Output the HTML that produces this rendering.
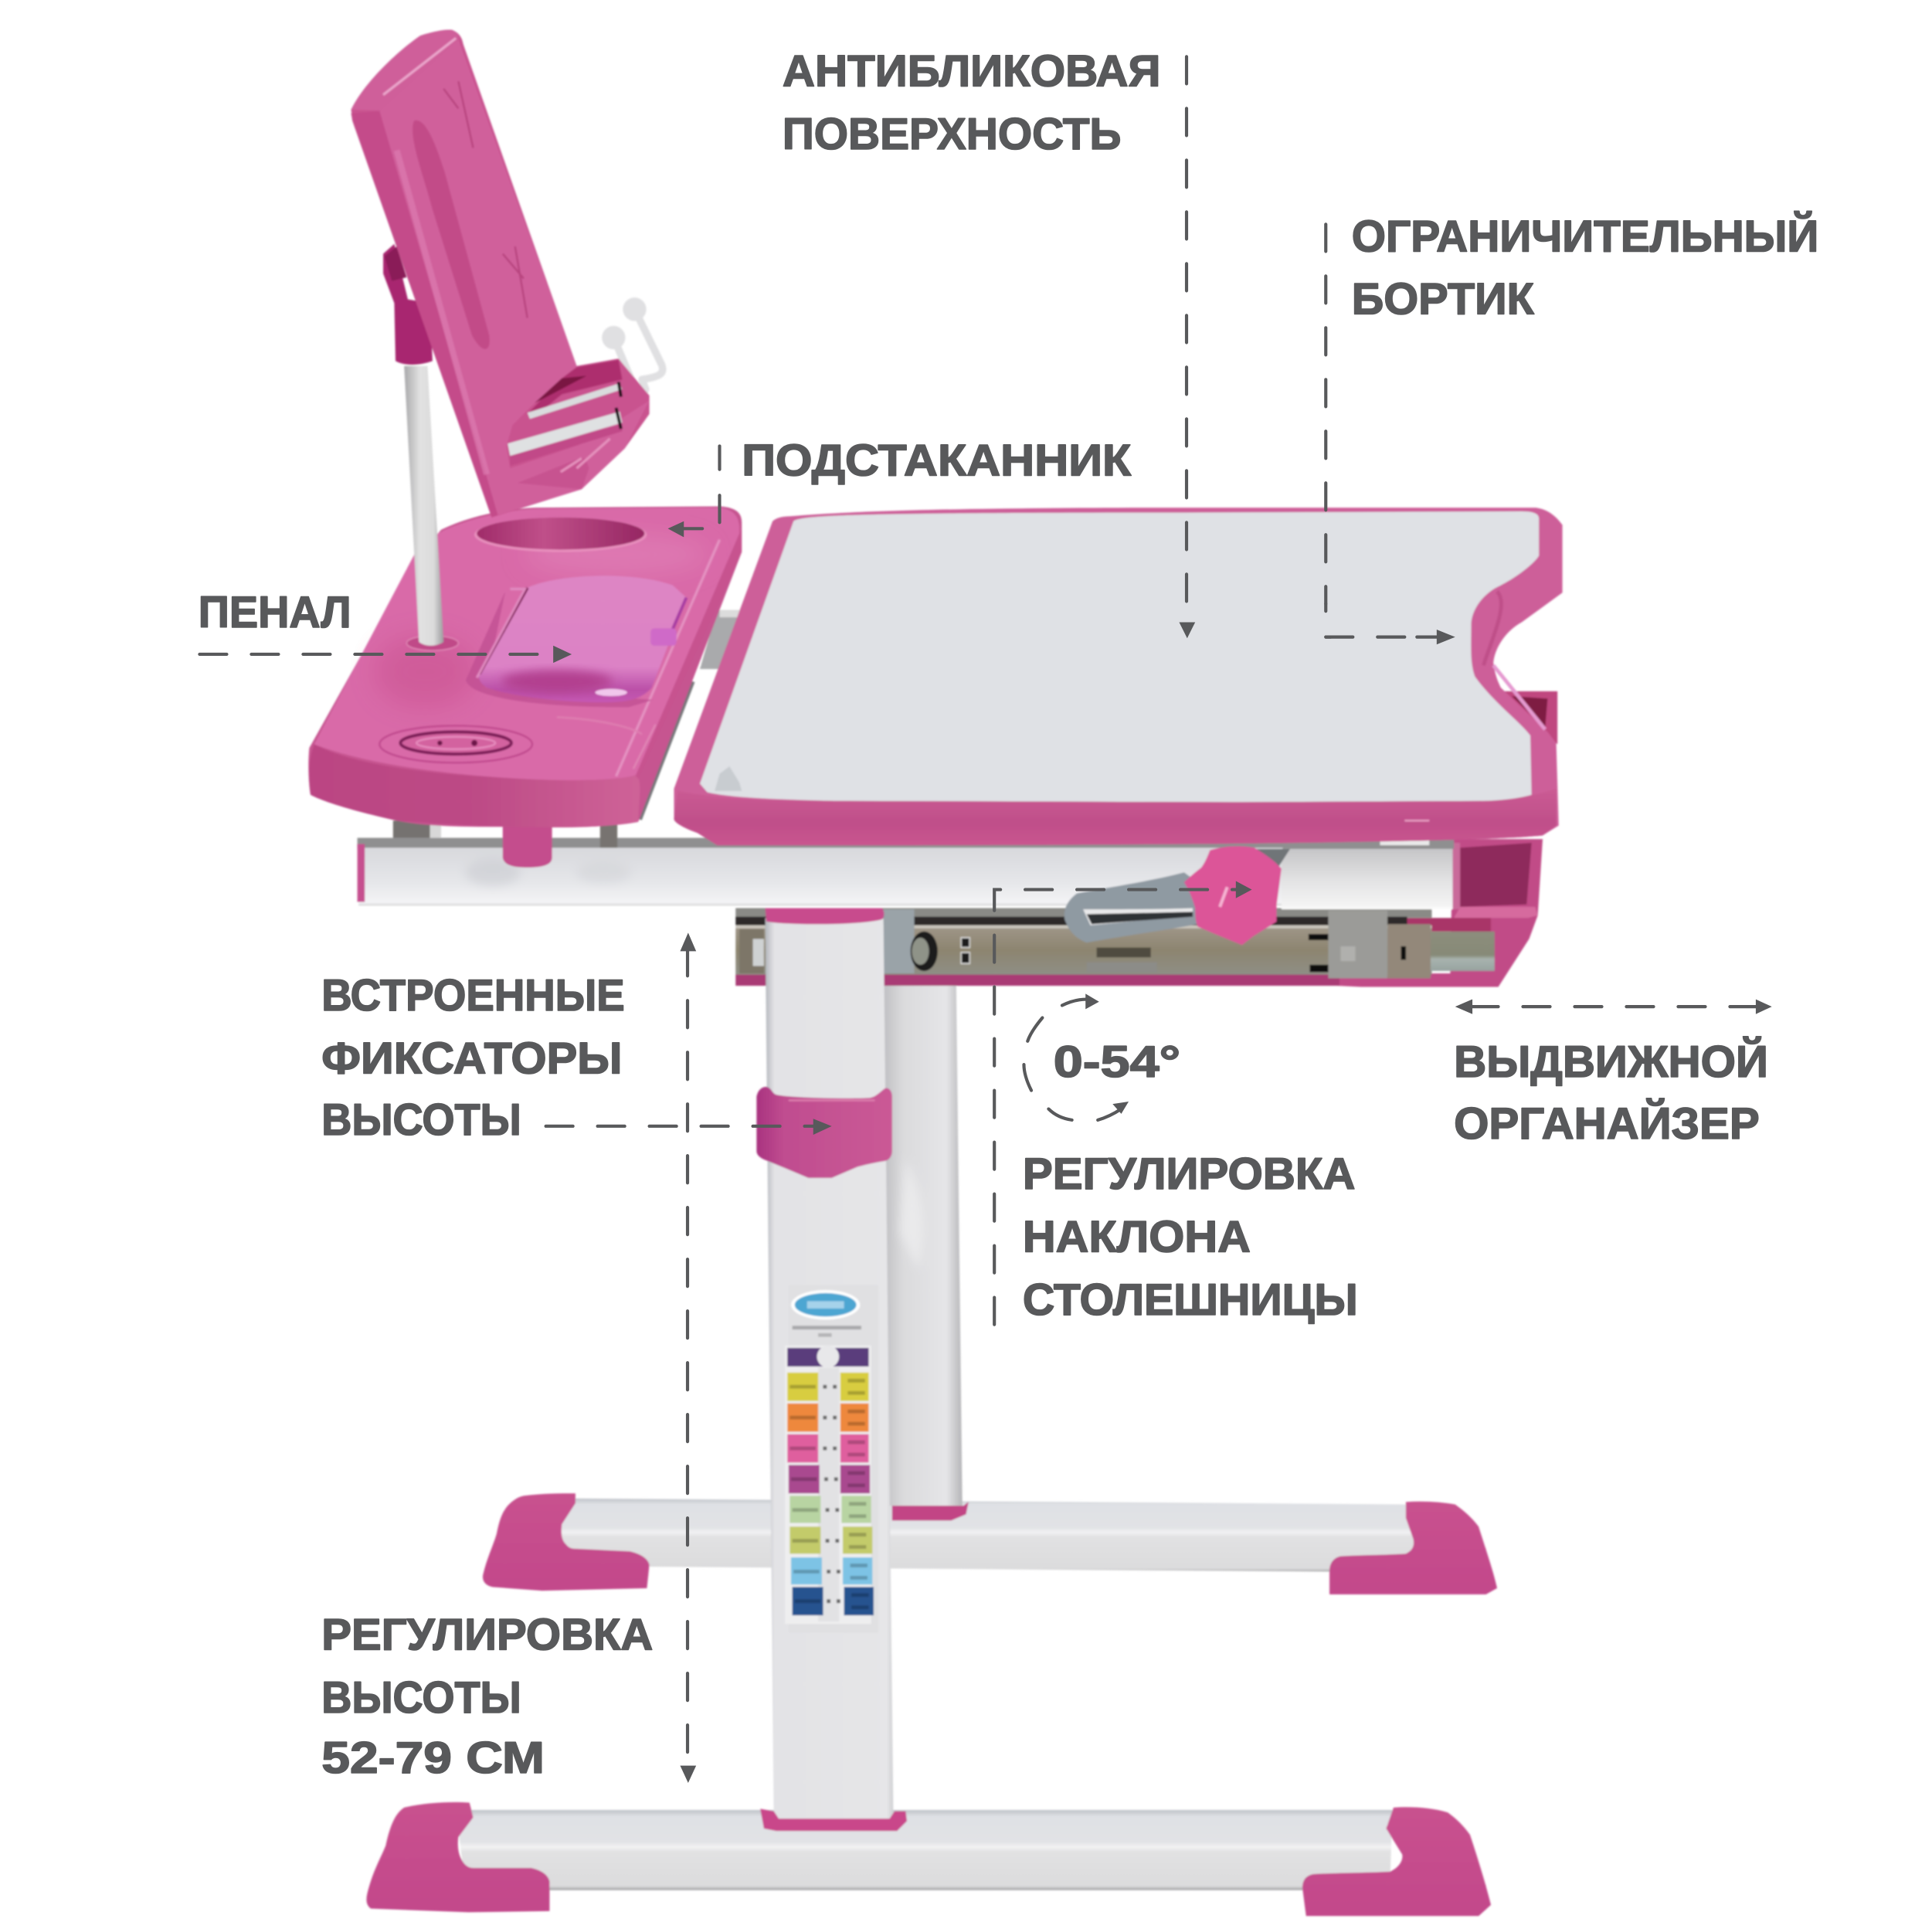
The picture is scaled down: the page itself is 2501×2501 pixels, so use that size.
<!DOCTYPE html>
<html lang="ru"><head><meta charset="utf-8"><title>Парта</title>
<style>html,body{margin:0;padding:0;background:#fff}svg{display:block}
text{font-family:"Liberation Sans","DejaVu Sans",sans-serif;font-weight:700;font-size:36px;fill:#58595b;stroke:#58595b;stroke-width:1;stroke-linejoin:round}
.d{fill:none;stroke:#58595b;stroke-width:2.6;stroke-linecap:round;stroke-dasharray:22 20}
.s{fill:none;stroke:#58595b;stroke-width:2.6;stroke-linecap:round}
.a{fill:#58595b}</style></head><body>
<svg xmlns="http://www.w3.org/2000/svg" width="2501" height="2501" viewBox="0 0 1568 1568">
<defs>
<filter id="b" x="-5%" y="-5%" width="110%" height="110%"><feGaussianBlur stdDeviation="0.7"/></filter>
<filter id="b3" x="-30%" y="-30%" width="160%" height="160%"><feGaussianBlur stdDeviation="4"/></filter>
<filter id="b9" x="-50%" y="-50%" width="200%" height="200%"><feGaussianBlur stdDeviation="10"/></filter>
<linearGradient id="bar" x1="0" y1="0" x2="0" y2="1"><stop offset="0" stop-color="#bfc3c9"/><stop offset=".08" stop-color="#dfe1e5"/><stop offset=".4" stop-color="#e2e3e6"/><stop offset=".46" stop-color="#f3f3f4"/><stop offset=".52" stop-color="#e2e2e3"/><stop offset=".95" stop-color="#dcdcdd"/><stop offset="1" stop-color="#a0a0a2"/></linearGradient>
<linearGradient id="leg" x1="0" y1="0" x2="1" y2="0"><stop offset="0" stop-color="#b4b7bd"/><stop offset=".07" stop-color="#e3e3e6"/><stop offset=".95" stop-color="#e6e6e8"/><stop offset="1" stop-color="#cfd0d3"/></linearGradient>
<linearGradient id="backleg" x1="0" y1="0" x2="1" y2="0"><stop offset="0" stop-color="#c0c0c3"/><stop offset=".25" stop-color="#dbdbdd"/><stop offset=".8" stop-color="#e6e6e8"/><stop offset="1" stop-color="#b5b5b8"/></linearGradient>
<linearGradient id="pole" x1="0" y1="0" x2="1" y2="0"><stop offset="0" stop-color="#a9a9ab"/><stop offset=".4" stop-color="#e2e2e2"/><stop offset=".75" stop-color="#dcdcdc"/><stop offset="1" stop-color="#9c9c9e"/></linearGradient>
<linearGradient id="beam" x1="0" y1="0" x2="0" y2="1"><stop offset="0" stop-color="#d8d9dd"/><stop offset=".6" stop-color="#e6e7ea"/><stop offset=".95" stop-color="#f4f4f6"/><stop offset="1" stop-color="#d2d2d4"/></linearGradient>
<linearGradient id="beam2" x1="0" y1="0" x2="0" y2="1"><stop offset="0" stop-color="#c6c6c8"/><stop offset=".5" stop-color="#e2e2e3"/><stop offset=".95" stop-color="#f5f5f5"/><stop offset="1" stop-color="#fff"/></linearGradient>
<linearGradient id="rail" x1="0" y1="0" x2="0" y2="1"><stop offset="0" stop-color="#a0978a"/><stop offset=".5" stop-color="#8d8570"/><stop offset="1" stop-color="#8f8f86"/></linearGradient>
<linearGradient id="railend" x1="0" y1="0" x2="0" y2="1"><stop offset="0" stop-color="#8d8e7c"/><stop offset=".6" stop-color="#878a78"/><stop offset=".7" stop-color="#a8b3ae"/><stop offset="1" stop-color="#97a3a0"/></linearGradient>
<linearGradient id="front" x1="0" y1="0" x2="0" y2="1"><stop offset="0" stop-color="#cb5c94"/><stop offset=".6" stop-color="#c04f8a"/><stop offset="1" stop-color="#c9558f"/></linearGradient>
<linearGradient id="trayfront" x1="0" y1="0" x2="1" y2="0"><stop offset="0" stop-color="#bb4583"/><stop offset=".5" stop-color="#bd4b86"/><stop offset="1" stop-color="#cf6398"/></linearGradient>
<linearGradient id="lid" x1="0" y1="0" x2="0" y2="1"><stop offset="0" stop-color="#de86c4"/><stop offset=".72" stop-color="#dc82c6"/><stop offset=".9" stop-color="#bb50a8"/><stop offset="1" stop-color="#c658b4"/></linearGradient>
<linearGradient id="hole" x1="0" y1="0" x2="1" y2="0"><stop offset="0" stop-color="#a02c6a"/><stop offset=".4" stop-color="#c0508a"/><stop offset="1" stop-color="#962763"/></linearGradient>
<linearGradient id="cap" x1="0" y1="0" x2="0" y2="1"><stop offset="0" stop-color="#c9528f"/><stop offset="1" stop-color="#c3488b"/></linearGradient>
<linearGradient id="collar" x1="0" y1="0" x2="1" y2="0"><stop offset="0" stop-color="#a93380"/><stop offset=".2" stop-color="#c04d90"/><stop offset="1" stop-color="#cb5a96"/></linearGradient>
</defs>

<g filter="url(#b)">
<!-- back foot bar -->
<path d="M445 1216L1148 1221V1276L455 1271Z" fill="url(#bar)"/>
<!-- back leg -->
<path d="M717 798H776L781 1222H720Z" fill="url(#backleg)"/>
<path d="M735 940C745 960 755 990 745 1030L730 1000Z" fill="#f0f0f1" opacity=".7" filter="url(#b3)"/>
<path d="M724 1222H782L786 1219L784 1229L772 1234H724Z" fill="#c24585"/>
<!-- back caps -->
<path d="M425 1214C440 1212 455 1212 467 1212L467 1220L456 1237C455 1245 456 1250 459 1253C462 1257 465 1257 468 1257L511 1259C520 1261 526 1265 527 1270L525 1289L440 1291L400 1288C394 1287 391 1283 392 1278C395 1265 400 1255 403 1245C405 1235 407 1228 412 1222C416 1218 420 1215 425 1214Z" fill="url(#cap)"/>
<path d="M1141 1219C1155 1218 1170 1219 1181 1221C1188 1226 1195 1232 1200 1239C1205 1255 1212 1275 1215 1289L1206 1294H1079V1275C1079 1268 1083 1264 1088 1263C1105 1262 1125 1262 1141 1261C1147 1258 1148 1254 1147 1249L1141 1232Z" fill="url(#cap)"/>
<!-- front foot bar -->
<path d="M370 1469H1130L1128 1534H378Z" fill="url(#bar)"/>
<!-- front caps -->
<path d="M328 1467C345 1463 365 1462 381 1463L384 1475L372 1491C371 1498 372 1505 375 1510C378 1515 381 1516 384 1516L431 1516C440 1518 445 1522 446 1527V1551L380 1552L301 1549C297 1546 297 1542 298 1537C302 1520 308 1510 313 1498C316 1484 320 1472 328 1467Z" fill="url(#cap)"/>
<path d="M1131 1467C1145 1466 1162 1467 1175 1471C1182 1476 1188 1482 1193 1489C1200 1510 1206 1530 1210 1546L1200 1555H1060L1057 1532C1057 1526 1060 1522 1066 1521C1085 1520 1110 1520 1128 1519C1135 1516 1139 1510 1138 1505L1125 1484Z" fill="url(#cap)"/>
<!-- drawer lower part -->
<path d="M1179 681H1252L1248 743L1241 762L1216 801H1105L1085 800H598V790H1177Z" fill="#c14b87"/>
<path d="M1185 688L1243 684L1239 734L1185 736Z" fill="#8e2b5c"/>
<path d="M1185 736H1246L1248 743L1240 745H1180Z" fill="#d66a9e"/>
<rect x="1179" y="684" width="6" height="54" fill="#c96a9a"/>
<rect x="597" y="790" width="490" height="10" fill="#a93a74"/>
<path d="M1100 745H1210V756H1100Z" fill="#a93668"/>
<!-- rail -->
<rect x="597" y="737" width="565" height="8" fill="#8a8a86"/>
<rect x="597" y="744" width="545" height="7" fill="#2e2b2a"/>
<rect x="597" y="751" width="565" height="40" fill="url(#rail)"/>
<rect x="597" y="751" width="565" height="2.500" fill="#c9c5bc"/>
<rect x="1161" y="756" width="52" height="32" fill="url(#railend)"/>
<rect x="1126" y="750" width="35" height="44" fill="#93887a"/>
<rect x="1078" y="739" width="48" height="55" fill="#9b9b98"/>
<rect x="1088" y="768" width="12" height="12" fill="#b0b0ad"/>
<rect x="1137" y="768" width="4" height="11" fill="#111"/>
<rect x="1062" y="758" width="16" height="5" fill="#111"/><rect x="1063" y="783" width="15" height="6" fill="#111"/>
<rect x="717" y="738" width="25" height="52" fill="#9aa3a8"/>
<ellipse cx="750" cy="772" rx="11" ry="16" fill="#1f1f1f"/><ellipse cx="747" cy="772" rx="7" ry="11" fill="#8f9388"/>
<rect x="780" y="761" width="7" height="8" fill="#1c1c1c" stroke="#ddd"/><rect x="780" y="773" width="7" height="9" fill="#1c1c1c" stroke="#ddd"/>
<rect x="600" y="754" width="20" height="36" fill="#7d7667"/><rect x="611" y="762" width="9" height="22" fill="#cfd2d3"/>
<rect x="890" y="769" width="44" height="8" fill="#4f4b40"/>
<rect x="882" y="781" width="57" height="8" fill="#8c8c88"/>
<!-- beam -->
<rect x="290" y="680" width="890" height="9" fill="#8f8f90"/>
<rect x="291" y="688" width="750" height="47" fill="url(#beam)"/>
<rect x="1040" y="689" width="139" height="49" fill="url(#beam2)"/>
<rect x="290" y="685" width="6" height="47" fill="#c64f8f"/>
<ellipse cx="400" cy="708" rx="22" ry="11" fill="#b9bbc2" opacity=".35" filter="url(#b3)"/>
<ellipse cx="490" cy="708" rx="22" ry="9" fill="#c5c6cb" opacity=".3" filter="url(#b3)"/>
<rect x="319" y="666" width="30" height="14" fill="#75726f"/>
<rect x="349" y="668" width="9" height="12" fill="#d8d8d8"/>
<rect x="487" y="669" width="14" height="19" fill="#77736f"/>
<rect x="1120" y="682" width="40" height="4" fill="#e9e9e9"/>
<path d="M408 670H448V696C448 702 440 704 428 704C416 704 409 702 408 696Z" fill="#c44e8d"/>
<!-- front leg -->
<path d="M621 745H717L725 1476C700 1480 650 1480 628 1476Z" fill="url(#leg)"/>
<path d="M621 737H716C718 740 718 744 716 746C700 751 640 751 622 748Z" fill="#c84c8d"/>
<path d="M617 1468L628 1470L632 1476H722L726 1470L735 1470L736 1478L728 1486H630L620 1484Z" fill="#c9478a"/>
<!-- collar -->
<path d="M614 890C615 885 618 882 622 882C626 883 626 886 629 888C634 891 690 892 706 891C712 890 716 884 719 883C722 883 724 886 724 890V934C724 938 722 941 719 942C708 944 703 945 696 947L675 956H656L637 948L620 941C616 939 614 937 614 934Z" fill="url(#collar)"/>
<path d="M640 893H710" stroke="#dd7fae" stroke-width="1.500"/>
<!-- height label -->
<rect x="640" y="1043" width="73" height="282" fill="#e0e0e2"/>
<ellipse cx="670" cy="1059" rx="28" ry="12" fill="#fff"/>
<ellipse cx="670" cy="1059" rx="25" ry="9.500" fill="#4da6d2"/>
<rect x="655" y="1056" width="30" height="6" fill="#a6d2ea"/>
<rect x="643" y="1076" width="56" height="3" fill="#a9a9ab"/><rect x="664" y="1082" width="11" height="3" fill="#b5b5b7"/>
<rect x="637" y="1092" width="70" height="226" fill="#eeeeef"/>
<rect x="664" y="1110" width="17" height="206" fill="#e2e2e4"/>
<path d="M639 1094H705V1109H639Z" fill="#5a3e7c"/>
<circle cx="672" cy="1101" r="9" fill="#e8e8ea"/>
<g>
<rect x="639" y="1114" width="25" height="23" fill="#d8cd3f"/><rect x="682" y="1114" width="23" height="23" fill="#d8cd3f"/>
<rect x="639" y="1139" width="25" height="23" fill="#ee883d"/><rect x="682" y="1139" width="23" height="23" fill="#ee883d"/>
<rect x="639" y="1164" width="25" height="23" fill="#df5f9e"/><rect x="682" y="1164" width="23" height="23" fill="#df5f9e"/>
<rect x="640" y="1189" width="25" height="23" fill="#a9498f"/><rect x="682" y="1189" width="24" height="23" fill="#a9498f"/>
<rect x="641" y="1214" width="25" height="22" fill="#b8d4a2"/><rect x="683" y="1214" width="24" height="22" fill="#b8d4a2"/>
<rect x="641" y="1239" width="25" height="22" fill="#c3cb6a"/><rect x="684" y="1239" width="24" height="22" fill="#c3cb6a"/>
<rect x="642" y="1264" width="25" height="22" fill="#7dc3e5"/><rect x="684" y="1264" width="24" height="22" fill="#7dc3e5"/>
<rect x="643" y="1288" width="25" height="23" fill="#27528f"/><rect x="685" y="1288" width="24" height="23" fill="#27528f"/>
<path d="M641 1124h21v3h-21zM641 1149h21v3h-21zM641 1174h21v3h-21zM642 1199h21v3h-21zM643 1224h21v3h-21zM643 1249h21v3h-21zM644 1274h21v3h-21zM645 1298h21v3h-21zM688 1119h14v3h-14zM688 1129h14v3h-14zM688 1144h14v3h-14zM688 1154h14v3h-14zM688 1169h14v3h-14zM688 1179h14v3h-14zM688 1194h14v3h-14zM688 1204h14v3h-14zM689 1219h14v3h-14zM689 1229h14v3h-14zM689 1244h14v3h-14zM689 1254h14v3h-14zM690 1269h14v3h-14zM690 1279h14v3h-14zM691 1293h14v3h-14zM691 1303h14v3h-14z" fill="#000" opacity=".22"/>
<path d="M668 1124h3v3h-3zM676 1124h3v3h-3zM668 1149h3v3h-3zM676 1149h3v3h-3zM668 1174h3v3h-3zM676 1174h3v3h-3zM669 1199h3v3h-3zM677 1199h3v3h-3zM670 1224h3v3h-3zM678 1224h3v3h-3zM670 1249h3v3h-3zM678 1249h3v3h-3zM671 1274h3v3h-3zM679 1274h3v3h-3zM671 1298h3v3h-3zM679 1298h3v3h-3z" fill="#666"/>
</g>
<!-- gray bracket behind tray -->
<path d="M582 495H604L587 543H568Z" fill="#a9aaac"/>
<rect x="584" y="495" width="18" height="6" fill="#dcdcdc"/>
<!-- tray -->
<path d="M519 665L562 553" stroke="#77777a" stroke-width="4" fill="none"/>
<path d="M358 430C380 419 410 413 434 412L585 411C597 412 602 416 602 424V448L518 667C490 672 450 672 434 671C395 671 350 672 322 666C295 660 265 652 252 645C250 632 250 617 251 607L335 457Z" fill="#c65490"/>
<path d="M361 430C386 419 414 414 434 413L585 412C597 414 601 421 600 433L516 629C502 634 452 634 422 632C372 629 302 622 255 604L341 441Z" fill="#d96aa8"/>
<ellipse cx="500" cy="450" rx="75" ry="16" fill="#e283b9" opacity=".6" filter="url(#b9)"/>
<ellipse cx="345" cy="545" rx="40" ry="28" fill="#cc5694" opacity=".7" filter="url(#b9)"/>
<path d="M255 604C292 624 372 630 422 632C462 634 502 634 516 629C522 632 518 652 518 667C482 674 402 672 322 666C295 660 265 652 252 645C250 632 250 617 255 604Z" fill="url(#trayfront)"/>
<path d="M518 632L602 447V430L516 630Z" fill="#c7538f"/>
<path d="M584 438L500 630" stroke="#e593c2" stroke-width="2" fill="none"/>
<!-- cup hole -->
<ellipse cx="455" cy="434" rx="70" ry="14" fill="#e88fbd"/>
<ellipse cx="455" cy="433" rx="68" ry="13" fill="url(#hole)"/>
<!-- pole base -->
<ellipse cx="351" cy="522" rx="21" ry="6" fill="#c04a88" stroke="#e086b5"/>
<!-- lid recess -->
<path d="M410 480L378 552C381 564 422 574 510 574L530 568L394 558Z" fill="#c14f92" opacity=".8"/>
<!-- lid -->
<path d="M428 477C452 466 512 463 546 475L557 485L529 558C521 567 511 570 489 570C451 570 411 564 395 558C389 554 388 550 389 547Z" fill="url(#lid)"/>
<path d="M428 477L389 547" stroke="#7d1a56" stroke-width="2.500" fill="none"/>
<path d="M414 478L426 478L387 550" stroke="#e08ac0" stroke-width="2" fill="none"/>
<path d="M557 485L541 522" stroke="#a83ca3" stroke-width="2.500" fill="none"/>
<rect x="528" y="510" width="21" height="14" rx="3" fill="#cf6ac8"/>
<ellipse cx="452" cy="553" rx="45" ry="9" fill="#b2408f" filter="url(#b3)"/>
<ellipse cx="496" cy="562" rx="13" ry="3" fill="#f1c8ec"/>
<!-- spiral -->
<ellipse cx="370" cy="604" rx="62" ry="15" fill="none" stroke="#c0498e" stroke-width="1.500"/>
<ellipse cx="370" cy="603" rx="45" ry="9" fill="#d3629f" stroke="#7d1f58" stroke-width="2.500"/>
<ellipse cx="370" cy="603" rx="32" ry="5" fill="none" stroke="#e78dbf" stroke-width="1.500"/>
<circle cx="357" cy="603" r="2" fill="#6d1349"/><circle cx="385" cy="603" r="2.500" fill="#6d1349"/>
<path d="M532 588L514 624" stroke="#e086b5" stroke-width="1.500"/>
<path d="M452 582C492 584 517 592 521 596" stroke="#df7fb1" stroke-width="1.500" fill="none"/>
<!-- pole -->
<path d="M328 297H347L360 521C354 525 345 525 340 521Z" fill="url(#pole)"/>
<!-- collar at pole -->
<path d="M311 206L320 198L331 243L349 246L351 293C340 297 328 297 321 293L320 246L311 222Z" fill="#a82870"/>
<path d="M312 208L322 200L330 225L318 228Z" fill="#8a1b58"/>
<!-- wires -->
<g fill="none" stroke="#e0e0e2" stroke-width="6" stroke-linecap="round" stroke-linejoin="round">
<path d="M515 251L537 296C540 304 534 306 521 308L524 316L518 330C512 334 505 336 500 337"/>
<path d="M498 274L514 312"/>
</g>
<circle cx="515" cy="251" r="9.500" fill="#e0e0e2"/><circle cx="498" cy="274" r="9.500" fill="#e0e0e2"/>
<!-- book holder -->
<path d="M285 89C295 68 322 42 341 29C350 26 360 24 366 24C372 26 375 30 376 36L468 297L502 291L506 296L527 321V336L507 364L472 397L399 420L286 98Z" fill="#c9538f"/>
<path d="M308 90L372 32L468 297L470 305L456 307L431 330L416 345L411 362L414 380L470 361L510 336L527 325L507 364L472 397L404 418Z" fill="#d0609b"/>
<path d="M285 92L308 90L404 418L399 420L286 98Z" fill="#c44c8a"/>
<path d="M285 89C295 68 322 42 341 29C350 26 360 24 366 24C372 26 373 30 372 32L308 90Z" fill="#cf5f9a"/>
<path d="M311 77L370 31" stroke="#eba6cc" stroke-width="2" fill="none"/>
<path d="M336 98C345 95 353 115 361 140L397 272C399 287 391 287 383 272L351 170C343 140 331 110 336 98Z" fill="#c04885" opacity=".85"/>
<path d="M322 122L395 385" stroke="#e080b4" stroke-width="5" fill="none" opacity=".6"/>
<path d="M360 72L372 88M372 66L384 120M408 206L425 226M418 200L428 258" stroke="#b8447f" stroke-width="1.500" fill="none"/>
<!-- ledge -->
<path d="M468 298L502 292L505 308L456 320L434 338L428 336L456 307Z" fill="#ad2f6e"/>
<path d="M434 327L456 307L476 305L442 323Z" fill="#7a1442"/>
<path d="M428 335L503 311L505 316L430 340Z" fill="#d9dbdd"/>
<path d="M412 360L503 334L505 343L414 370Z" fill="#dfe1e2"/>
<path d="M414 370L505 344L505 350L414 378Z" fill="#c14a88"/>
<path d="M502 310L504 322M500 331L504 348" stroke="#111" stroke-width="2.500" fill="none"/>
<path d="M420 392L470 372L475 372L478 380L472 397Z" fill="#c44f8d" opacity=".8"/>
<path d="M455 383L472 372M468 380L495 356" stroke="#e592bd" stroke-width="2" fill="none"/>
<!-- desk notch box -->
<path d="M1218 561H1264V604L1256 596Z" fill="#c0477f"/>
<path d="M1227 565L1256 567L1254 591Z" fill="#7e1a43"/>
<!-- desktop outer -->
<path d="M627 423C630 420 636 419 641 419C700 414 800 412 960 412L1246 412C1256 413 1263 419 1268 426L1268 481L1235 505C1222 512 1213 526 1212 538C1213 546 1215 552 1218 558L1256 594L1263 603L1265 670L1252 678C1200 684 900 686 700 686H582L566 676C555 672 548 668 547 665V640Z" fill="#cd5f99"/>
<!-- desktop top gray -->
<path d="M644 423C650 418 700 416 960 416L1235 415C1245 415 1249 417 1249 421L1249 451C1244 459 1228 470 1218 475C1204 481 1194 495 1194 507C1194 525 1193 538 1197 549C1212 570 1234 586 1242 597L1243 645C1229 649 1209 651 1202 650L1000 651L677 650C640 649 595 648 574 643L568 636Z" fill="#dfe1e5"/>
<path d="M1212 540L1254 592" stroke="#e59ad0" stroke-width="3" fill="none"/>
<path d="M1215 480C1225 490 1210 520 1204 540" stroke="#b5457f" stroke-width="3" fill="none" opacity=".6"/>
<path d="M584 628L592 622L600 635L602 642H580Z" fill="#c8ccd0"/>
<path d="M550 642C590 650 640 650 677 650L1000 651L1202 650C1230 650 1255 643 1263 640V670L1252 678C1200 684 900 686 700 686H582L566 676C555 672 548 668 547 665Z" fill="url(#front)"/>
<path d="M1140 666H1160" stroke="#e79cc2" stroke-width="1.500"/>
<!-- metal tilt bracket -->
<path d="M961 708C930 716 900 720 874 725C866 731 863 738 864 746C868 757 874 762 882 765C910 760 945 755 972 750V716Z" fill="#8f9aa2"/>
<path d="M879 738C905 738 940 738 968 737V743L885 751Z" fill="#e9e9ea"/>
<path d="M882 742L968 740V744L886 750Z" fill="#2e3034"/>
<path d="M1018 689H1047L1038 703Z" fill="#6f7478"/>
<!-- knob -->
<path d="M982 690C995 686 1008 686 1018 688C1026 693 1034 698 1040 705L1036 735L1036 748L1017 760L1008 767L986 758L972 752C970 747 970 742 970 737C968 730 965 722 961 716C965 712 970 708 975 704C978 700 980 695 982 690Z" fill="#dc5598"/>
<path d="M990 736L996 720" stroke="#f6b3d3" stroke-width="2.500" fill="none"/>
</g>

<!-- annotations -->
<path class="d" d="M963 46V505"/><path class="a" d="M957 505H970L963.500 518Z"/>
<path class="d" d="M1076 182V490"/><path class="d" d="M1076 517H1145"/>
<path class="s" d="M1076 490V496M1076 517H1080"/><path class="s" d="M1150 517H1168"/><path class="a" d="M1166 511L1181 517L1166 523Z"/>
<path class="s" d="M584 362V381M584 402V424M552 429H570"/><path class="a" d="M542 429L555 423V436Z"/>
<path class="d" d="M162 531H452"/><path class="a" d="M449 524L464 531L449 538Z"/>
<path class="d" d="M558 770V1435"/><path class="a" d="M552 772L558.500 757L565 772Z"/><path class="a" d="M552 1433H565L558.500 1447Z"/>
<path class="d" d="M443 914H663"/><path class="a" d="M660 908L675 914L660 921Z"/>
<path class="d" d="M807 1075V722H1005"/><path class="a" d="M1003 715L1016 722L1003 729Z"/>
<path class="d" d="M1194 817H1428"/><path class="a" d="M1181 817L1195 811V823Z"/><path class="a" d="M1425 811L1438 817L1425 823Z"/>
<path class="s" d="M862 816C868 813 875 811 882 811"/><path class="a" d="M881 806.500L892 813L881 819Z"/>
<path class="s" d="M846 826C841 832 836 839 834 845M831 864C831 871 834 879 837 885M851 900C856 905 863 908 870 909M891 909C898 907 904 904 910 900"/><path class="a" d="M916 894L903 896L910 904Z"/>

<g transform="translate(0,-1)">
<text x="635" y="71" textLength="307" lengthAdjust="spacingAndGlyphs">АНТИБЛИКОВАЯ</text>
<text x="635" y="122" textLength="275" lengthAdjust="spacingAndGlyphs">ПОВЕРХНОСТЬ</text>
<text x="1097" y="205" textLength="379" lengthAdjust="spacingAndGlyphs">ОГРАНИЧИТЕЛЬНЫЙ</text>
<text x="1097" y="256" textLength="148" lengthAdjust="spacingAndGlyphs">БОРТИК</text>
<text x="602" y="387" textLength="316" lengthAdjust="spacingAndGlyphs">ПОДСТАКАННИК</text>
<text x="161" y="510" textLength="124" lengthAdjust="spacingAndGlyphs">ПЕНАЛ</text>
<text x="261" y="821" textLength="246" lengthAdjust="spacingAndGlyphs">ВСТРОЕННЫЕ</text>
<text x="261" y="872" textLength="244" lengthAdjust="spacingAndGlyphs">ФИКСАТОРЫ</text>
<text x="261" y="922" textLength="162" lengthAdjust="spacingAndGlyphs">ВЫСОТЫ</text>
<text x="1180" y="875" textLength="255" lengthAdjust="spacingAndGlyphs">ВЫДВИЖНОЙ</text>
<text x="1180" y="925" textLength="248" lengthAdjust="spacingAndGlyphs">ОРГАНАЙЗЕР</text>
<text x="855" y="875" textLength="103" lengthAdjust="spacingAndGlyphs">0-54°</text>
<text x="830" y="966" textLength="270" lengthAdjust="spacingAndGlyphs">РЕГУЛИРОВКА</text>
<text x="830" y="1017" textLength="185" lengthAdjust="spacingAndGlyphs">НАКЛОНА</text>
<text x="830" y="1068" textLength="272" lengthAdjust="spacingAndGlyphs">СТОЛЕШНИЦЫ</text>
<text x="261" y="1340" textLength="269" lengthAdjust="spacingAndGlyphs">РЕГУЛИРОВКА</text>
<text x="261" y="1391" textLength="162" lengthAdjust="spacingAndGlyphs">ВЫСОТЫ</text>
<text x="261" y="1440" textLength="181" lengthAdjust="spacingAndGlyphs">52-79 СМ</text>
</g>
</svg>
</body></html>
